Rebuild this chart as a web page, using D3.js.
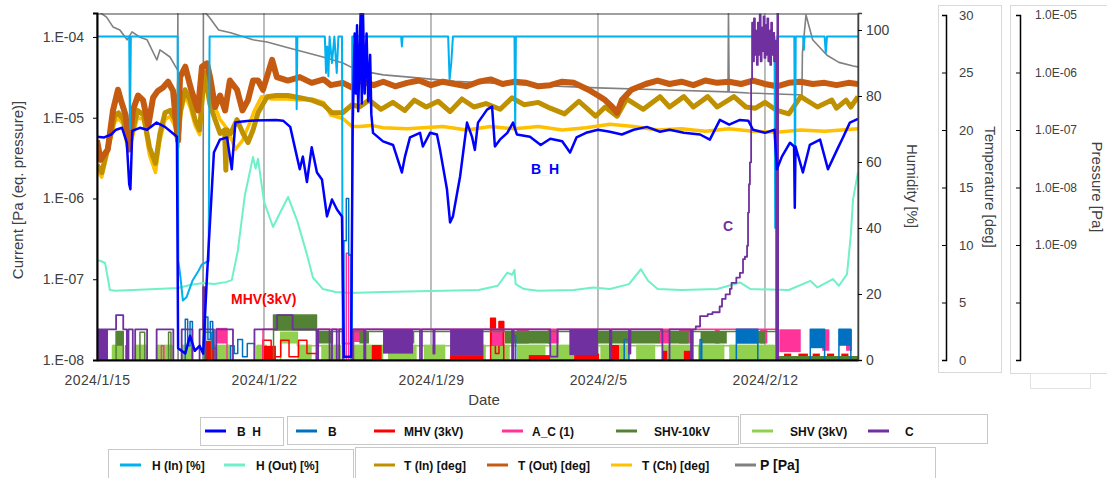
<!DOCTYPE html>
<html>
<head>
<meta charset="utf-8">
<script src="https://cdn.jsdelivr.net/npm/d3@7"></script>
<style>
body { margin: 0; background: #fff; }
svg { font-family: "Liberation Sans", Arial, sans-serif; }
</style>
</head>
<body>
<div id="chart"></div>
<script>
// all series use day offsets counted from 2024/1/15 00:00
var startDate = new Date(2024, 0, 15);
var lastDay = 31.9;
var weekTicks = [0, 7, 14, 21, 28];

var currentTicks = [1e-8, 1e-7, 1e-6, 1e-5, 1e-4];
var currentTickLabels = ['1.E-08', '1.E-07', '1.E-06', '1.E-05', '1.E-04'];
var humidityTicks = [0, 20, 40, 60, 80, 100];
var tempTicks = [0, 5, 10, 15, 20, 25, 30];
var pressureTicks = [1e-5, 1e-6, 1e-7, 1e-8, 1e-9, 1e-10, 1e-11];
var pressureTickLabels = ['1.0E-05', '1.0E-06', '1.0E-07', '1.0E-08', '1.0E-09', '', ''];

// current B_H [Pa eq.]
var bhData = [[0,5.8e-6],[0.3,5.7e-6],[0.6,6.2e-6],[0.8,7.1e-6],[1.05,7.5e-6],[1.25,4.9e-6],[1.35,1.5e-6],[1.4,1.3e-6],[1.48,6.9e-6],[1.8,7.5e-6],[2.1,7.1e-6],[2.5,8.7e-6],[2.85,7.7e-6],[3.15,6.5e-6],[3.35,5.8e-6],[3.4,1.4e-8],[3.7,1.2e-8],[3.9,2.0e-8],[4.1,1.3e-8],[4.3,1.5e-8],[4.45,1.2e-8],[4.61,1.09e-7],[4.9,3.7e-6],[5.15,5.35e-6],[5.45,5.7e-6],[5.65,2.3e-6],[5.8,8.7e-6],[6.0,8.9e-6],[6.4,9.2e-6],[7.5,9.4e-6],[7.8,9.2e-6],[8.1,7.7e-6],[8.38,3.3e-6],[8.5,2.3e-6],[8.63,3.3e-6],[8.8,1.6e-6],[9.0,4.3e-6],[9.22,2.1e-6],[9.43,1.72e-6],[9.64,6.0e-7],[9.85,9.7e-7],[10.06,7.3e-7],[10.27,6.0e-7],[10.31,7.5e-8],[10.35,1.1e-8],[10.65,1.1e-8],[10.72,8.2e-6],[10.8,1.1e-4],[10.85,2.0e-5],[10.9,1.4e-4],[10.95,1.2e-5],[11.05,2.0e-4],[11.1,1.5e-5],[11.15,2.0e-4],[11.22,2.0e-5],[11.3,1.1e-4],[11.37,1.6e-5],[11.45,6.0e-5],[11.5,1.1e-5],[11.57,6.5e-6],[11.99,5.1e-6],[12.41,4.6e-6],[12.7,2.5e-6],[12.78,2.1e-6],[12.91,3.3e-6],[13.12,5.7e-6],[13.54,6.5e-6],[13.66,4.4e-6],[13.96,6.5e-6],[14.25,6.2e-6],[14.38,4.0e-6],[14.67,1.3e-6],[14.8,5.05e-7],[14.92,6.0e-7],[15.22,1.87e-6],[15.51,8.7e-6],[15.72,5.8e-6],[15.84,4.0e-6],[15.97,8.7e-6],[16.35,1.26e-5],[16.56,1.37e-5],[16.68,4.4e-6],[16.89,5.35e-6],[17.2,6.5e-6],[17.44,8.7e-6],[17.6,6.2e-6],[18.15,5.8e-6],[18.6,4.6e-6],[19.0,5.5e-6],[19.5,5.1e-6],[19.83,3.7e-6],[20.1,5.7e-6],[20.5,6.5e-6],[21.0,7.1e-6],[21.5,6.7e-6],[22.0,6.2e-6],[22.5,7.1e-6],[23.05,7.7e-6],[23.6,6.7e-6],[24.0,7.1e-6],[24.6,6.5e-6],[25.28,6.2e-6],[25.69,5.35e-6],[26.11,9.4e-6],[26.5,8.2e-6],[26.95,9.4e-6],[27.3,9.2e-6],[27.5,7.1e-6],[28.0,6.5e-6],[28.4,7.1e-6],[28.5,2.3e-6],[28.71,3.3e-6],[29.05,4.9e-6],[29.22,4.4e-6],[29.25,7.7e-7],[29.28,4.4e-6],[29.59,2.1e-6],[29.88,4.6e-6],[30.31,5.35e-6],[30.64,2.3e-6],[31.02,4.0e-6],[31.27,5.7e-6],[31.56,8.7e-6],[31.9,9.7e-6]];

// on/off currents: steps [day, value], fills [from, to, low, high] where switching is too dense to see single lines
var bSteps = [[0,0.9e-8],[3.7,3.2e-8],[3.8,1.5e-8],[3.9,3.0e-8],[4.0,0.9e-8],[4.55,3.4e-8],[4.65,1.8e-8],[4.75,3.0e-8],[4.85,1.4e-8],[5.0,0.9e-8],[5.6,1.5e-8],[5.75,1.2e-8],[5.9,1.8e-8],[6.1,1.1e-8],[6.3,1.6e-8],[6.6,0.9e-8],[10.35,3e-7],[10.45,1e-6],[10.55,2e-7],[10.65,0.9e-8],[17.45,2e-8],[17.55,0.9e-8],[22.1,1.8e-8],[22.3,0.9e-8],[25.28,1.8e-8],[25.35,0.9e-8],[26.8,2.4e-8],[27.7,0.9e-8],[29.9,2.4e-8],[30.5,0.9e-8],[31.1,2.4e-8],[31.6,0.9e-8],[31.9,0.9e-8]];
var bFills = [[26.8,27.7,1.6e-8,2.4e-8],[29.9,30.5,1.4e-8,2.4e-8],[31.1,31.6,1.5e-8,2.4e-8]];

var mhvSteps = [[0,0.9e-8],[4.6,1.7e-8],[4.85,0.9e-8],[6.95,1.75e-8],[7.3,1.1e-8],[7.7,1.75e-8],[8.05,1.1e-8],[8.45,1.75e-8],[8.8,1.2e-8],[9.2,0.9e-8],[11.55,1.5e-8],[11.9,0.9e-8],[16.5,3.3e-8],[16.7,1.2e-8],[16.85,3.0e-8],[17.05,0.9e-8],[21.5,1.5e-8],[21.85,0.9e-8],[31.9,0.9e-8]];
var mhvFills = [[4.6,4.85,0.95e-8,1.7e-8],[7.0,7.5,0.95e-8,1.5e-8],[11.55,11.9,0.95e-8,1.5e-8],[14.8,16.2,0.95e-8,1.15e-8],[16.5,16.7,1.5e-8,3.3e-8],[16.85,17.05,1.5e-8,3.0e-8],[18.1,19.0,0.95e-8,1.15e-8],[20.0,21.05,0.95e-8,1.2e-8],[21.5,21.85,0.95e-8,1.5e-8],[23.7,23.9,0.95e-8,1.3e-8],[24.6,24.9,0.95e-8,1.3e-8],[28.8,29.1,1.08e-8,1.2e-8],[29.4,29.8,1.08e-8,1.2e-8],[30.0,30.3,1.08e-8,1.2e-8],[30.6,30.9,1.08e-8,1.2e-8],[31.2,31.5,1.08e-8,1.2e-8]];

var acSteps = [[0,0.9e-8],[1.2,1.5e-8],[1.3,0.9e-8],[2.7,1.5e-8],[2.8,0.9e-8],[5.0,2.4e-8],[5.45,0.9e-8],[6.96,2.4e-8],[10.3,0.9e-8],[10.45,2.1e-7],[10.55,0.9e-8],[10.75,2.4e-8],[28.5,0.9e-8],[31.9,0.9e-8]];
var acFills = [[5.0,5.45,1.6e-8,2.5e-8],[10.75,11.2,1.67e-8,2.4e-8],[16.55,17.0,1.5e-8,2.4e-8],[17.6,18.1,1.6e-8,2.4e-8],[18.9,19.35,1.6e-8,2.4e-8],[23.6,24.0,1.6e-8,2.4e-8],[24.4,25.0,1.6e-8,2.4e-8],[25.9,26.1,1.6e-8,2.4e-8],[27.8,28.1,1.6e-8,2.4e-8],[28.6,29.5,1.25e-8,2.4e-8],[30.4,30.7,1.3e-8,2.4e-8],[31.4,31.65,1.3e-8,2.4e-8]];

var shv10Steps = [[0,0.9e-8],[0.8,2.25e-8],[1.1,0.9e-8],[1.8,2.2e-8],[2.0,0.9e-8],[3.0,2.2e-8],[3.1,0.9e-8],[4.5,2.2e-8],[4.8,0.9e-8],[7.4,3.6e-8],[9.2,2.25e-8],[10.3,0.9e-8],[10.75,2.25e-8],[28.5,1.1e-8],[31.9,1.1e-8]];
var shv10Fills = [[0.8,1.1,1.5e-8,2.25e-8],[7.4,9.2,2.3e-8,3.6e-8],[9.2,9.9,1.6e-8,2.25e-8],[11.0,11.4,1.6e-8,2.25e-8],[13.0,13.3,1.6e-8,2.25e-8],[17.1,19.0,1.6e-8,2.25e-8],[20.9,23.6,1.6e-8,2.25e-8],[24.0,24.8,1.6e-8,2.25e-8],[25.3,26.4,1.6e-8,2.25e-8],[26.8,28.0,1.6e-8,2.25e-8],[28.55,31.9,0.95e-8,1.12e-8]];

var shv3Steps = [[0,0.9e-8],[0.65,1.5e-8],[1.1,0.9e-8],[1.6,1.5e-8],[2.1,0.9e-8],[2.5,1.5e-8],[3.15,0.9e-8],[3.55,1.5e-8],[3.95,0.9e-8],[4.6,1.5e-8],[5.6,0.9e-8],[6.7,1.5e-8],[7.1,0.9e-8],[7.7,2.2e-8],[8.4,1.5e-8],[10.2,0.9e-8],[10.8,1.5e-8],[28.4,0.9e-8],[31.9,0.9e-8]];
var shv3Fills = [[0.65,1.1,0.95e-8,1.55e-8],[1.6,2.1,0.95e-8,1.55e-8],[2.5,3.15,0.95e-8,1.55e-8],[3.55,3.95,0.95e-8,1.55e-8],[4.6,5.6,0.95e-8,1.55e-8],[6.7,7.1,0.95e-8,1.55e-8],[7.7,8.4,1.6e-8,2.2e-8],[8.4,9.0,0.95e-8,1.55e-8],[9.4,10.2,0.95e-8,1.55e-8],[10.8,12.0,0.95e-8,1.55e-8],[12.2,13.4,0.95e-8,1.55e-8],[13.7,14.6,0.95e-8,1.55e-8],[14.8,16.3,0.95e-8,1.55e-8],[16.5,17.3,0.95e-8,1.55e-8],[17.6,18.8,0.95e-8,1.55e-8],[19.0,20.0,0.95e-8,1.55e-8],[20.3,21.0,0.95e-8,1.55e-8],[21.1,22.3,0.95e-8,1.55e-8],[22.6,23.4,0.95e-8,1.55e-8],[23.7,25.0,0.95e-8,1.55e-8],[25.2,26.3,0.95e-8,1.55e-8],[26.5,28.4,0.95e-8,1.55e-8]];

var cSteps = [[0,2.4e-8],[0.55,2.4e-8],[0.8,3.6e-8],[1.1,2.4e-8],[1.25,0.9e-8],[1.32,2.4e-8],[1.5,0.9e-8],[1.6,2.4e-8],[2.1,0.9e-8],[2.5,2.4e-8],[3.2,0.9e-8],[3.55,2.4e-8],[4.0,0.9e-8],[4.3,2.4e-8],[4.45,8e-8],[4.52,2.4e-8],[4.9,0.9e-8],[5.0,2.4e-8],[5.7,0.9e-8],[6.6,2.4e-8],[7.55,3.6e-8],[8.2,2.4e-8],[9.2,0.9e-8],[9.27,2.4e-8],[9.75,0.9e-8],[9.85,2.4e-8],[10.05,0.9e-8],[10.15,2.4e-8],[10.3,0.9e-8],[10.72,2.4e-8],[11.2,0.9e-8],[11.25,2.4e-8],[13.54,0.9e-8],[13.62,2.4e-8],[14.1,1.2e-8],[14.15,2.4e-8],[17.4,0.9e-8],[17.46,2.4e-8],[19.0,1.1e-8],[19.3,2.4e-8],[21.5,0.9e-8],[21.56,2.4e-8],[22.3,1.2e-8],[22.36,2.4e-8],[23.7,0.9e-8],[24.0,2.4e-8],[24.9,0.9e-8],[24.97,2.4e-8],[25.1,2.6e-8],[25.28,3.5e-8],[25.6,3.7e-8],[25.8,3.9e-8],[26.1,4.6e-8],[26.2,5.7e-8],[26.35,6.5e-8],[26.53,7.6e-8],[26.6,9e-8],[26.8,1.05e-7],[26.95,1.2e-7],[27.08,1.77e-7],[27.16,1.9e-7],[27.25,2.6e-7],[27.29,6.7e-7],[27.33,1.5e-6],[27.37,2.8e-6],[27.42,3e-5],[27.46,1.5e-4],[27.5,5e-5],[27.54,1.7e-4],[27.58,6e-5],[27.62,1.2e-4],[27.66,4.5e-5],[27.7,1.5e-4],[27.74,6e-5],[27.78,1.9e-4],[27.82,5e-5],[27.86,1.3e-4],[27.9,7e-5],[27.94,1.8e-4],[27.98,5.5e-5],[28.02,1.4e-4],[28.06,6e-5],[28.1,1.7e-4],[28.14,5e-5],[28.18,1.2e-4],[28.22,4.5e-5],[28.26,1.5e-4],[28.3,6e-5],[28.34,1.1e-4],[28.38,5e-5],[28.42,9e-5],[28.47,0.9e-8],[28.52,2e-4],[28.55,0.9e-8],[31.9,0.9e-8]];
var cFills = [[0.04,0.46,0.95e-8,2.4e-8],[11.99,13.25,1.2e-8,2.4e-8],[14.8,16.2,1.15e-8,2.4e-8],[19.8,21.0,1.15e-8,2.4e-8],[27.5,28.42,6.5e-5,1.15e-4]];

// humidity [%]
var hInData = [[0,98],[1.35,98],[1.38,70],[1.42,98],[3.38,98],[3.41,30],[3.5,25],[3.6,18],[3.75,19],[4.0,24],[4.25,27],[4.4,29],[4.68,30],[4.72,98],[8.35,98],[8.37,76],[8.4,98],[9.55,98],[9.6,87],[9.65,95],[9.7,86],[9.75,98],[9.85,90],[9.95,98],[10.05,87],[10.12,98],[10.27,98],[10.3,5],[10.68,5],[10.7,98],[12.75,98],[12.78,95],[12.81,98],[14.72,98],[14.78,85],[14.85,90],[14.92,98],[17.5,98],[17.53,70],[17.56,98],[28.4,98],[28.43,40],[28.5,42],[28.52,98],[29.23,98],[29.26,55],[29.29,98],[29.6,98],[29.63,94],[29.66,98],[30.5,98],[30.55,93],[30.6,98],[31.9,98]];
var hOutData = [[0,30.3],[0.15,30.0],[0.34,29.4],[0.54,21.2],[0.75,21.0],[1.5,21.2],[2.5,21.5],[3.4,21.8],[3.9,22.7],[4.45,23.3],[4.9,23.0],[5.4,23.6],[5.65,24.2],[5.9,33.0],[6.2,50.0],[6.54,61.5],[6.65,58.0],[6.75,61.0],[7.0,48.0],[7.38,40.3],[7.7,45.0],[8.01,49.4],[8.4,42.0],[8.8,32.0],[9.05,25.0],[9.47,21.5],[10.0,20.6],[10.6,20.3],[12.0,20.6],[14.0,20.9],[16.0,21.2],[16.8,22.5],[17.2,26.5],[17.4,25.8],[17.5,27.3],[17.55,23.0],[17.9,21.5],[18.5,21.0],[20.0,21.2],[20.8,22.0],[21.5,21.5],[22.3,23.0],[22.8,27.5],[23.1,24.0],[23.5,21.5],[24.5,21.2],[26.0,21.5],[26.95,23.5],[27.4,21.5],[29.0,21.2],[29.9,24.0],[30.2,22.0],[30.85,24.5],[31.1,22.5],[31.44,26.0],[31.6,38.0],[31.69,48.5],[31.9,57.0]];

// temperature [deg]
var tInData = [[0,17.0],[0.2,16.3],[0.5,18.9],[0.75,21.3],[0.9,21.5],[1.1,20.9],[1.3,18.9],[1.45,19.6],[1.7,21.7],[1.95,21.3],[2.2,18.5],[2.45,17.1],[2.64,19.7],[2.85,21.5],[3.06,21.7],[3.27,20.9],[3.4,19.1],[3.5,21.7],[3.69,23.5],[3.9,22.6],[4.11,20.9],[4.3,20.0],[4.5,25.0],[4.74,22.2],[4.95,20.9],[5.16,19.7],[5.35,20.0],[5.4,16.5],[5.45,20.0],[5.6,19.7],[5.87,20.9],[6.12,19.7],[6.33,18.9],[6.54,20.0],[6.75,21.5],[7.13,22.9],[7.5,23.0],[8.0,23.0],[8.5,22.8],[9.0,22.6],[9.5,22.2],[9.85,21.5],[10.3,21.5],[10.7,22.2],[11.0,22.0],[11.4,22.6],[11.9,21.8],[12.4,22.4],[12.9,21.7],[13.3,22.6],[13.8,22.0],[14.3,22.5],[14.8,21.6],[15.3,22.7],[15.8,22.0],[16.3,22.3],[16.9,21.8],[17.4,22.8],[17.9,22.2],[18.5,22.4],[19.0,21.9],[19.6,21.4],[20.2,22.5],[20.9,21.2],[21.3,22.0],[21.8,21.2],[22.2,22.7],[22.9,21.8],[23.6,22.9],[24.0,22.0],[24.6,22.9],[25.0,22.0],[25.6,22.9],[26.0,22.0],[26.7,22.9],[27.2,22.0],[27.6,21.9],[28.0,22.4],[28.5,21.7],[29.0,21.4],[29.5,22.9],[30.2,22.0],[30.8,22.6],[31.0,21.9],[31.4,22.6],[31.6,22.0],[31.9,22.9]];
var tOutData = [[0,19.1],[0.15,17.4],[0.45,18.3],[0.67,21.7],[0.88,23.5],[1.0,22.6],[1.2,21.3],[1.35,18.3],[1.5,21.7],[1.72,23.0],[1.93,22.6],[2.15,20.4],[2.35,22.8],[2.55,23.4],[2.77,23.7],[2.98,24.2],[3.19,23.4],[3.3,20.9],[3.4,19.1],[3.48,24.6],[3.7,25.5],[3.95,23.5],[4.23,21.7],[4.4,25.5],[4.61,25.8],[4.74,24.6],[4.95,22.0],[5.16,23.0],[5.37,21.7],[5.57,24.3],[5.87,23.5],[6.1,21.7],[6.33,22.6],[6.54,24.3],[6.75,24.3],[6.96,23.5],[7.34,26.1],[7.54,24.6],[8.0,24.3],[8.5,24.6],[9.0,24.1],[9.5,24.4],[9.8,23.9],[10.3,24.1],[10.7,23.7],[11.0,24.3],[11.6,23.9],[12.0,24.2],[12.5,23.8],[13.0,24.1],[13.5,24.3],[14.0,23.9],[14.5,24.2],[15.0,24.0],[15.5,23.8],[16.0,24.2],[16.5,24.4],[17.0,24.0],[17.5,24.2],[18.0,24.1],[18.5,23.8],[19.0,23.9],[19.5,24.2],[20.0,24.1],[20.6,23.5],[21.0,23.0],[21.3,22.6],[21.6,22.0],[21.8,21.5],[22.0,22.6],[22.4,23.5],[23.0,24.0],[23.5,24.3],[24.0,24.0],[24.5,24.2],[25.0,23.9],[25.5,24.3],[26.0,24.1],[26.5,24.2],[27.0,24.0],[27.5,24.3],[28.0,24.0],[28.5,23.8],[29.0,24.1],[29.5,24.2],[30.0,24.0],[30.5,24.1],[31.0,23.9],[31.5,24.1],[31.9,24.0]];
var tChData = [[0,16.5],[0.2,15.9],[0.5,18.5],[0.75,20.7],[0.9,21.0],[1.1,20.5],[1.3,18.2],[1.45,19.1],[1.7,21.1],[1.95,20.9],[2.2,17.8],[2.45,16.3],[2.64,19.1],[2.85,20.9],[3.06,21.2],[3.27,20.3],[3.4,18.5],[3.5,21.2],[3.69,23.0],[3.9,22.0],[4.11,20.4],[4.3,19.6],[4.5,24.5],[4.74,23.2],[4.95,22.0],[5.16,20.9],[5.5,20.0],[5.8,18.3],[6.1,19.1],[6.4,20.6],[6.6,21.7],[6.9,22.9],[7.3,22.7],[8.0,22.7],[8.5,22.6],[9.0,22.7],[9.5,22.4],[9.8,21.3],[10.3,21.0],[10.7,20.3],[11.0,20.3],[11.5,20.4],[12.0,20.2],[13.0,20.1],[14.5,20.3],[15.5,20.0],[16.5,20.3],[17.5,20.1],[18.5,20.3],[19.5,20.0],[20.5,20.2],[21.5,20.5],[22.5,20.3],[23.5,20.0],[24.5,20.1],[25.5,19.9],[26.5,20.1],[27.5,19.9],[28.5,19.8],[29.5,20.0],[30.5,19.9],[31.9,20.1]];

// pressure [Pa]
var pData = [[0,1.2e-5],[0.4,9.2e-6],[0.67,6.2e-6],[0.96,5.5e-6],[1.26,3.7e-6],[1.47,5.1e-6],[1.8,4.1e-6],[2.1,3.7e-6],[2.51,1.65e-6],[2.64,2.47e-6],[3.06,1.86e-6],[3.3,1.25e-6],[3.38,1.1e-6],[3.39,1.2e-5],[3.4,1e-12],[4.44,1e-12],[4.46,1.2e-5],[4.7,9.2e-6],[5.1,5.5e-6],[5.6,4.9e-6],[6.54,3.7e-6],[7.13,3.4e-6],[8.05,2.67e-6],[9.47,1.86e-6],[10.31,1.46e-6],[10.9,1.1e-6],[12.0,9.1e-7],[13.1,8.3e-7],[15.0,7.0e-7],[18.0,6.1e-7],[21.0,5.4e-7],[23.6,5.0e-7],[26.45,4.6e-7],[26.47,1.2e-5],[26.5,4.6e-7],[27.3,4.4e-7],[29.4,4.1e-7],[29.55,4.1e-7],[29.57,2.2e-6],[29.72,1.0e-5],[30.0,3.7e-6],[30.6,2.0e-6],[31.1,1.5e-6],[31.7,1.3e-6],[31.9,1.25e-6]];

var legendRow1 = ['B_H', 'B', 'MHV (3kV)', 'A_C (1)', 'SHV-10kV', 'SHV (3kV)', 'C'];
var legendRow2 = ['H (In) [%]', 'H (Out) [%]', 'T (In) [deg]', 'T (Out) [deg]', 'T (Ch) [deg]', 'P [Pa]'];
var colors = {
  'B_H': '#0000ff', 'B': '#0070c0', 'MHV (3kV)': '#ff0000', 'A_C (1)': '#ff3399',
  'SHV-10kV': '#548235', 'SHV (3kV)': '#92d050', 'C': '#7030a0',
  'H (In) [%]': '#00b0f0', 'H (Out) [%]': '#6ff0c8', 'T (In) [deg]': '#bf9000',
  'T (Out) [deg]': '#c55a11', 'T (Ch) [deg]': '#ffc000', 'P [Pa]': '#808080'
};

var width = 1107, height = 478;
var svg = d3.select('#chart').append('svg')
  .attr('width', width)
  .attr('height', height);

var plotLeft = 97, plotRight = 858, plotTop = 13, plotBottom = 360;

function day(d) { return new Date(startDate.getTime() + d * 864e5); }

var x = d3.scaleTime().domain([startDate, day(lastDay)]).range([plotLeft, plotRight]);
var yCur = d3.scaleLog().domain([1e-8, 1.98e-4]).range([plotBottom, plotTop]);
var yHum = d3.scaleLinear().domain([0, 105.15]).range([plotBottom, plotTop]);
var yTemp = d3.scaleLinear().domain([0, 30]).range([plotBottom, 15]);
var yPres = d3.scaleLog().domain([1e-11, 1e-5]).range([plotBottom, 15]);

svg.append('clipPath').attr('id', 'plotClip')
  .append('rect').attr('x', plotLeft).attr('y', plotTop)
  .attr('width', plotRight - plotLeft).attr('height', plotBottom - plotTop);

// week grid lines
svg.append('g').selectAll('line')
  .data(weekTicks.slice(1))
  .enter().append('line')
  .attr('x1', d => x(day(d))).attr('x2', d => x(day(d)))
  .attr('y1', plotTop).attr('y2', plotBottom)
  .attr('stroke', '#a6a6a6').attr('stroke-width', 1.5);

var plot = svg.append('g').attr('clip-path', 'url(#plotClip)');

function drawLine(data, yScale, color, w, curve) {
  var line = d3.line()
    .x(d => x(day(d[0])))
    .y(d => yScale(d[1]))
    .curve(curve || d3.curveLinear);
  plot.append('path')
    .datum(data)
    .attr('d', line)
    .attr('fill', 'none')
    .attr('stroke', color)
    .attr('stroke-width', w)
    .attr('stroke-linejoin', 'round');
}

function drawFills(fills, color) {
  plot.append('g').selectAll('rect')
    .data(fills)
    .enter().append('rect')
    .attr('x', d => x(day(d[0])))
    .attr('width', d => x(day(d[1])) - x(day(d[0])))
    .attr('y', d => yCur(d[3]))
    .attr('height', d => yCur(d[2]) - yCur(d[3]))
    .attr('fill', color);
}

drawLine(pData, yPres, colors['P [Pa]'], 1.6);
drawLine(tChData, yTemp, colors['T (Ch) [deg]'], 3.5);
drawLine(tInData, yTemp, colors['T (In) [deg]'], 5);
drawLine(tOutData, yTemp, colors['T (Out) [deg]'], 6);
drawLine(hOutData, yHum, colors['H (Out) [%]'], 2);
drawLine(hInData, yHum, colors['H (In) [%]'], 2);

drawFills(shv3Fills, colors['SHV (3kV)']);
drawLine(shv3Steps, yCur, colors['SHV (3kV)'], 1.5, d3.curveStepAfter);
drawFills(mhvFills, colors['MHV (3kV)']);
drawLine(mhvSteps, yCur, colors['MHV (3kV)'], 1.5, d3.curveStepAfter);
drawFills(acFills, colors['A_C (1)']);
drawLine(acSteps, yCur, colors['A_C (1)'], 1.5, d3.curveStepAfter);
drawFills(shv10Fills, colors['SHV-10kV']);
drawLine(shv10Steps, yCur, colors['SHV-10kV'], 1.5, d3.curveStepAfter);
drawFills(bFills, colors['B']);
drawLine(bSteps, yCur, colors['B'], 1.5, d3.curveStepAfter);
drawFills(cFills, colors['C']);
drawLine(cSteps, yCur, colors['C'], 1.8, d3.curveStepAfter);
drawLine(bhData, yCur, colors['B_H'], 2.5);

// frame
svg.append('rect').attr('x', plotLeft).attr('y', plotTop + 1)
  .attr('width', plotRight - plotLeft).attr('height', plotBottom - plotTop - 1)
  .attr('fill', 'none').attr('stroke', '#404040').attr('stroke-width', 1);

// left axis
var axL = svg.append('g').attr('transform', 'translate(' + plotLeft + ',0)')
  .call(d3.axisLeft(yCur).tickValues(currentTicks).tickFormat((d, i) => currentTickLabels[i]).tickSize(4).tickPadding(9));
axL.select('.domain').attr('stroke', '#000').attr('stroke-width', 2);
axL.selectAll('text').attr('font-size', 14).attr('fill', '#404040').attr('font-family', '"Liberation Sans", Arial, sans-serif');

// bottom axis
var axB = svg.append('g').attr('transform', 'translate(0,' + plotBottom + ')')
  .call(d3.axisBottom(x).tickValues(weekTicks.map(day)).tickFormat(d3.timeFormat('%Y/%-m/%-d')).tickSize(0).tickPadding(15));
axB.select('.domain').attr('stroke', '#000').attr('stroke-width', 2);
axB.selectAll('text').attr('font-size', 14).attr('fill', '#404040').attr('letter-spacing', 0.4).attr('font-family', '"Liberation Sans", Arial, sans-serif');

// humidity axis
var axH = svg.append('g').attr('transform', 'translate(' + plotRight + ',0)')
  .call(d3.axisRight(yHum).tickValues(humidityTicks).tickSize(4).tickPadding(4));
axH.select('.domain').attr('stroke', '#404040').attr('stroke-width', 1.5);
axH.selectAll('text').attr('font-size', 14).attr('fill', '#404040').attr('font-family', '"Liberation Sans", Arial, sans-serif');

// temperature axis box
svg.append('rect').attr('x', 938.5).attr('y', 5.5).attr('width', 63).attr('height', 367)
  .attr('fill', 'none').attr('stroke', '#d9d9d9');
var axT = svg.append('g').attr('transform', 'translate(946,0)')
  .call(d3.axisRight(yTemp).tickValues(tempTicks).tickSize(-4).tickPadding(13));
axT.select('.domain').attr('stroke', '#000').attr('stroke-width', 1.5);
axT.selectAll('line').attr('stroke', '#000');
axT.selectAll('text').attr('font-size', 13).attr('fill', '#404040').attr('font-family', '"Liberation Sans", Arial, sans-serif');

// pressure axis box
svg.append('rect').attr('x', 1010.5).attr('y', 5.5).attr('width', 110).attr('height', 368)
  .attr('fill', 'none').attr('stroke', '#d9d9d9');
svg.append('rect').attr('x', 1030.5).attr('y', 373.5).attr('width', 60).attr('height', 15)
  .attr('fill', '#fff').attr('stroke', '#e3e3e3');
var axP = svg.append('g').attr('transform', 'translate(1020,0)')
  .call(d3.axisRight(yPres).tickValues(pressureTicks).tickFormat((d, i) => pressureTickLabels[i]).tickSize(-4).tickPadding(15));
axP.select('.domain').attr('stroke', '#000').attr('stroke-width', 1.5);
axP.selectAll('line').attr('stroke', '#000');
axP.selectAll('text').attr('font-size', 12).attr('fill', '#404040').attr('font-family', '"Liberation Sans", Arial, sans-serif');

// axis titles
function title(txt, tx, ty, rot) {
  svg.append('text')
    .attr('transform', 'translate(' + tx + ',' + ty + ') rotate(' + rot + ')')
    .attr('text-anchor', 'middle')
    .attr('dominant-baseline', 'middle')
    .attr('font-size', 15)
    .attr('fill', '#404040')
    .text(txt);
}
title('Current [Pa (eq. pressure)]', 19, 190, -90);
title('Date', 484, 401, 0);
title('Humidity [%]', 911, 186, 90);
title('Temperature [deg]', 989, 187, 90);
title('Pressure [Pa]', 1096, 187, 90);

// labels inside the plot
var bhLabel = svg.append('text').attr('x', 531).attr('y', 174)
  .attr('font-size', 14).attr('font-weight', 'bold').attr('fill', colors['B_H']);
bhLabel.append('tspan').text('B');
bhLabel.append('tspan').attr('fill-opacity', 0.15).text('_');
bhLabel.append('tspan').text('H');
svg.append('text').attr('x', 723).attr('y', 231)
  .attr('font-size', 14).attr('font-weight', 'bold').attr('fill', colors['C']).text('C');
svg.append('text').attr('x', 231).attr('y', 304)
  .attr('font-size', 14).attr('font-weight', 'bold').attr('fill', colors['MHV (3kV)']).text('MHV(3kV)');

// legend boxes
var legendBoxes = [[200, 417, 83, 28], [287, 416, 451, 28], [740, 414, 247, 29], [108, 449, 245, 30], [355, 447, 580, 31]];
svg.append('g').selectAll('rect')
  .data(legendBoxes)
  .enter().append('rect')
  .attr('x', d => d[0] + 0.5).attr('y', d => d[1] + 0.5)
  .attr('width', d => d[2]).attr('height', d => d[3])
  .attr('fill', 'none').attr('stroke', '#c8c8c8');

var row1X = [[205, 237], [296, 328], [374, 404], [502, 532], [616, 654], [752, 790], [868, 905]];
var row2X = [[120, 152], [224, 256], [374, 404], [487, 518], [611, 642], [735, 760]];

function legendRow(names, xs, ly) {
  var g = svg.append('g').selectAll('g')
    .data(names)
    .enter().append('g');
  g.append('line')
    .attr('x1', (d, i) => xs[i][0]).attr('x2', (d, i) => xs[i][0] + 21)
    .attr('y1', ly).attr('y2', ly)
    .attr('stroke', d => colors[d]).attr('stroke-width', 3);
  var t = g.append('text')
    .attr('x', (d, i) => xs[i][1]).attr('y', ly + 4.5)
    .attr('font-size', d => d === 'P [Pa]' ? 14 : 12)
    .attr('font-weight', 'bold')
    .attr('fill', '#111');
  t.each(function(d) {
    var el = d3.select(this);
    if (d === 'B_H') {
      el.append('tspan').text('B');
      el.append('tspan').attr('fill-opacity', 0.12).text('_');
      el.append('tspan').text('H');
    } else {
      el.text(d);
    }
  });
}
legendRow(legendRow1, row1X, 431);
legendRow(legendRow2, row2X, 465);
</script>
</body>
</html>
